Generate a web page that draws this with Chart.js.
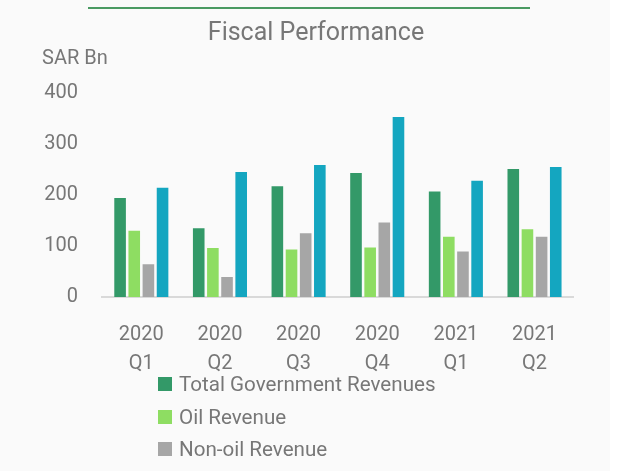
<!DOCTYPE html>
<html>
<head>
<meta charset="utf-8">
<script src="https://cdn.jsdelivr.net/npm/chart.js@4"></script>
<style>
  html, body { margin: 0; padding: 0; background: #ffffff; overflow: hidden; }
  #page { position: relative; width: 610px; height: 471px; background: #fafafa; overflow: hidden; }
  #topRule { position: absolute; left: 88px; top: 7px; width: 442px; height: 2px; background: #4a9a62; }
  #chartBox { position: absolute; left: 0; top: 0; width: 580px; height: 377px; }
  #legend { position: absolute; left: 158px; top: 368px; margin: 0; padding: 0; list-style: none;
            font-family: Roboto, sans-serif; font-size: 20.6px; color: #777777; }
  #legend li { height: 32.5px; line-height: 32.5px; display: flex; align-items: center; white-space: nowrap; }
  #legend .swatch { display: inline-block; width: 14px; height: 14px; margin-right: 7px; }
</style>
</head>
<body>
<div id="page">
  <div id="topRule"></div>
  <div id="chartBox"><canvas id="fiscalChart"></canvas></div>
  <ul id="legend"></ul>
</div>
<script>
// Quarters on the x axis (two-line labels)
const quarters = [
    ['2020', 'Q1'], ['2020', 'Q2'], ['2020', 'Q3'],
    ['2020', 'Q4'], ['2021', 'Q1'], ['2021', 'Q2']
];

// SAR Bn
const totalRevenues = [194, 135, 217, 243, 207, 251];
const oilRevenue = [130, 96, 93, 97, 118, 133];
const nonOilRevenue = [64, 39, 125, 146, 89, 118];
const totalExpenditures = [214, 245, 259, 353, 228, 255];

const yTicks = [0, 100, 200, 300, 400];

const textColor = '#777777';
const fontFamily = 'Roboto, sans-serif';

// Legend is drawn as html list, one entry per row
const htmlLegend = {
    id: 'htmlLegend',
    afterUpdate(chart) {
        const ul = document.getElementById('legend');
        ul.innerHTML = '';
        chart.legend.legendItems.forEach(item => {
            const li = document.createElement('li');
            li.innerHTML = `<span class="swatch" style="background:${item.fillStyle}"></span>${item.text}`;
            ul.appendChild(li);
        });
    }
};

// Title and unit label sit off-centre, so draw them here
const headerText = {
    id: 'headerText',
    afterDraw(chart) {
        const ctx = chart.ctx;
        ctx.save();
        ctx.fillStyle = textColor;
        ctx.textBaseline = 'middle';
        ctx.textAlign = 'center';
        ctx.font = `25px ${fontFamily}`;
        ctx.fillText('Fiscal Performance', 316, 34);
        ctx.textAlign = 'left';
        ctx.font = `20px ${fontFamily}`;
        ctx.fillText('SAR Bn', 42, 59);
        ctx.restore();
    }
};

const ctx = document.getElementById('fiscalChart').getContext('2d');

new Chart(ctx, {
    type: 'bar',
    data: {
        labels: quarters,
        datasets: [
            { label: 'Total Government Revenues', data: totalRevenues, backgroundColor: '#339968' },
            { label: 'Oil Revenue', data: oilRevenue, backgroundColor: '#8edd62' },
            { label: 'Non-oil Revenue', data: nonOilRevenue, backgroundColor: '#a6a6a6' },
            { label: 'Total Government Expenditures', data: totalExpenditures, backgroundColor: '#14a6c0' }
        ]
    },
    options: {
        responsive: true,
        maintainAspectRatio: false,
        animation: false,
        datasets: {
            bar: { categoryPercentage: 0.72, barPercentage: 0.82 }
        },
        layout: { padding: { left: 0, right: 0, top: 93, bottom: 0 } },
        plugins: {
            legend: {
                display: false,
                labels: { filter: item => item.datasetIndex < 3 }
            },
            tooltip: { enabled: false }
        },
        scales: {
            x: {
                grid: { display: false, drawTicks: false },
                border: { display: true, color: '#d9d9d9', width: 2 },
                ticks: {
                    color: textColor,
                    padding: 23,
                    font: { family: fontFamily, size: 20, lineHeight: 1.45 },
                    maxRotation: 0
                },
                afterFit: scale => { scale.height = 80; }
            },
            y: {
                min: 0,
                max: 400,
                grid: { display: false, drawTicks: false },
                border: { display: false },
                afterBuildTicks: scale => { scale.ticks = yTicks.map(v => ({ value: v })); },
                ticks: {
                    color: textColor,
                    padding: 24,
                    font: { family: fontFamily, size: 20 }
                },
                afterFit: scale => { scale.width = 102; }
            }
        }
    },
    plugins: [htmlLegend, headerText]
});
</script>
</body>
</html>
